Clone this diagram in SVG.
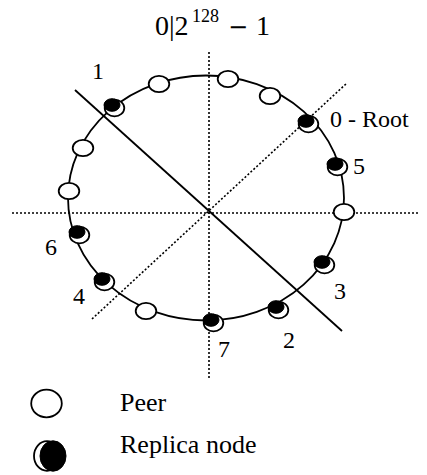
<svg xmlns="http://www.w3.org/2000/svg" width="427" height="475" viewBox="0 0 427 475">
  <style>
    .ring { fill: none; stroke: #000; stroke-width: 1.8; }
    .cut { stroke: #000; stroke-width: 1.8; fill: none; }
    .axis { stroke: #000; stroke-width: 1.6; stroke-dasharray: 2 2; fill: none; }
    .peer { fill: #fff; stroke: #000; stroke-width: 1.8; }
    .rim { fill: #fff; stroke: #000; stroke-width: 1.8; }
    .core { fill: #000; stroke: #000; stroke-width: 1; }
    .lbl { font-family: "Liberation Serif", "Times New Roman", serif; font-size: 24px; fill: #000; }
    .legend { font-family: "Liberation Serif", "Times New Roman", serif; font-size: 26px; fill: #000; }
    .title { font-family: "Liberation Serif", "Times New Roman", serif; font-size: 28px; fill: #000; }
  </style>
  <defs>
    <g id="peerShape"><ellipse class="peer" cx="0" cy="0" rx="10.3" ry="8.2"/></g>
    <g id="replicaShape">
      <ellipse class="rim" cx="2.5" cy="3" rx="9.8" ry="8.3"/>
      <ellipse class="core" cx="0" cy="0" rx="8" ry="6.3"/>
    </g>
  </defs>

  <rect width="427" height="475" fill="#fff"/>

  <!-- title: hash space bounds -->
  <text class="title" y="35"><tspan x="155">0|2</tspan><tspan x="192" y="22" font-size="18">128</tspan><tspan x="228" y="35" font-family="DejaVu Serif, serif" font-size="24">−</tspan><tspan x="256" y="35">1</tspan></text>

  <!-- axes, partition cuts and the ring -->
  <g id="connectors">
    <line class="axis" x1="209" y1="52" x2="209" y2="378"/>
    <line class="axis" x1="12" y1="213" x2="418" y2="213"/>
    <line class="axis" x1="92" y1="319" x2="347" y2="83"/>
    <line class="cut" x1="75" y1="90" x2="342" y2="331"/>
    <ellipse class="ring" cx="206" cy="198" rx="138" ry="122.5"/>
  </g>

  <!-- peers -->
  <g id="peer-a"><use href="#peerShape" x="159" y="84"/></g>
  <g id="peer-b"><use href="#peerShape" x="228" y="79"/></g>
  <g id="peer-c"><use href="#peerShape" x="270" y="96"/></g>
  <g id="peer-d"><use href="#peerShape" x="344" y="212"/></g>
  <g id="peer-e"><use href="#peerShape" x="146" y="311"/></g>
  <g id="peer-f"><use href="#peerShape" x="83" y="148"/></g>
  <g id="peer-g"><use href="#peerShape" x="69" y="191"/></g>

  <!-- replica nodes with their indices -->
  <g id="replica-0"><use href="#replicaShape" x="306" y="121"/><text class="lbl" x="330" y="127">0 - Root</text></g>
  <g id="replica-1"><use href="#replicaShape" x="112" y="105"/><text class="lbl" x="92" y="79">1</text></g>
  <g id="replica-2"><use href="#replicaShape" x="276" y="307"/><text class="lbl" x="283" y="348">2</text></g>
  <g id="replica-3"><use href="#replicaShape" x="322" y="262"/><text class="lbl" x="334" y="299">3</text></g>
  <g id="replica-4"><use href="#replicaShape" x="102" y="279"/><text class="lbl" x="73" y="304">4</text></g>
  <g id="replica-5"><use href="#replicaShape" x="335" y="164"/><text class="lbl" x="353" y="174">5</text></g>
  <g id="replica-6"><use href="#replicaShape" x="77" y="232"/><text class="lbl" x="45" y="255">6</text></g>
  <g id="replica-7"><use href="#replicaShape" x="211" y="320"/><text class="lbl" x="218" y="357">7</text></g>

  <!-- legend -->
  <g id="legend-peer">
    <ellipse class="peer" cx="46.5" cy="403.5" rx="15.3" ry="13.8"/>
    <text class="legend" x="120" y="411">Peer</text>
  </g>
  <g id="legend-replica">
    <ellipse class="rim" cx="47" cy="456" rx="13" ry="14.8"/>
    <ellipse class="core" cx="53" cy="456" rx="13" ry="15.2"/>
    <text class="legend" x="120" y="453">Replica node</text>
  </g>
</svg>
